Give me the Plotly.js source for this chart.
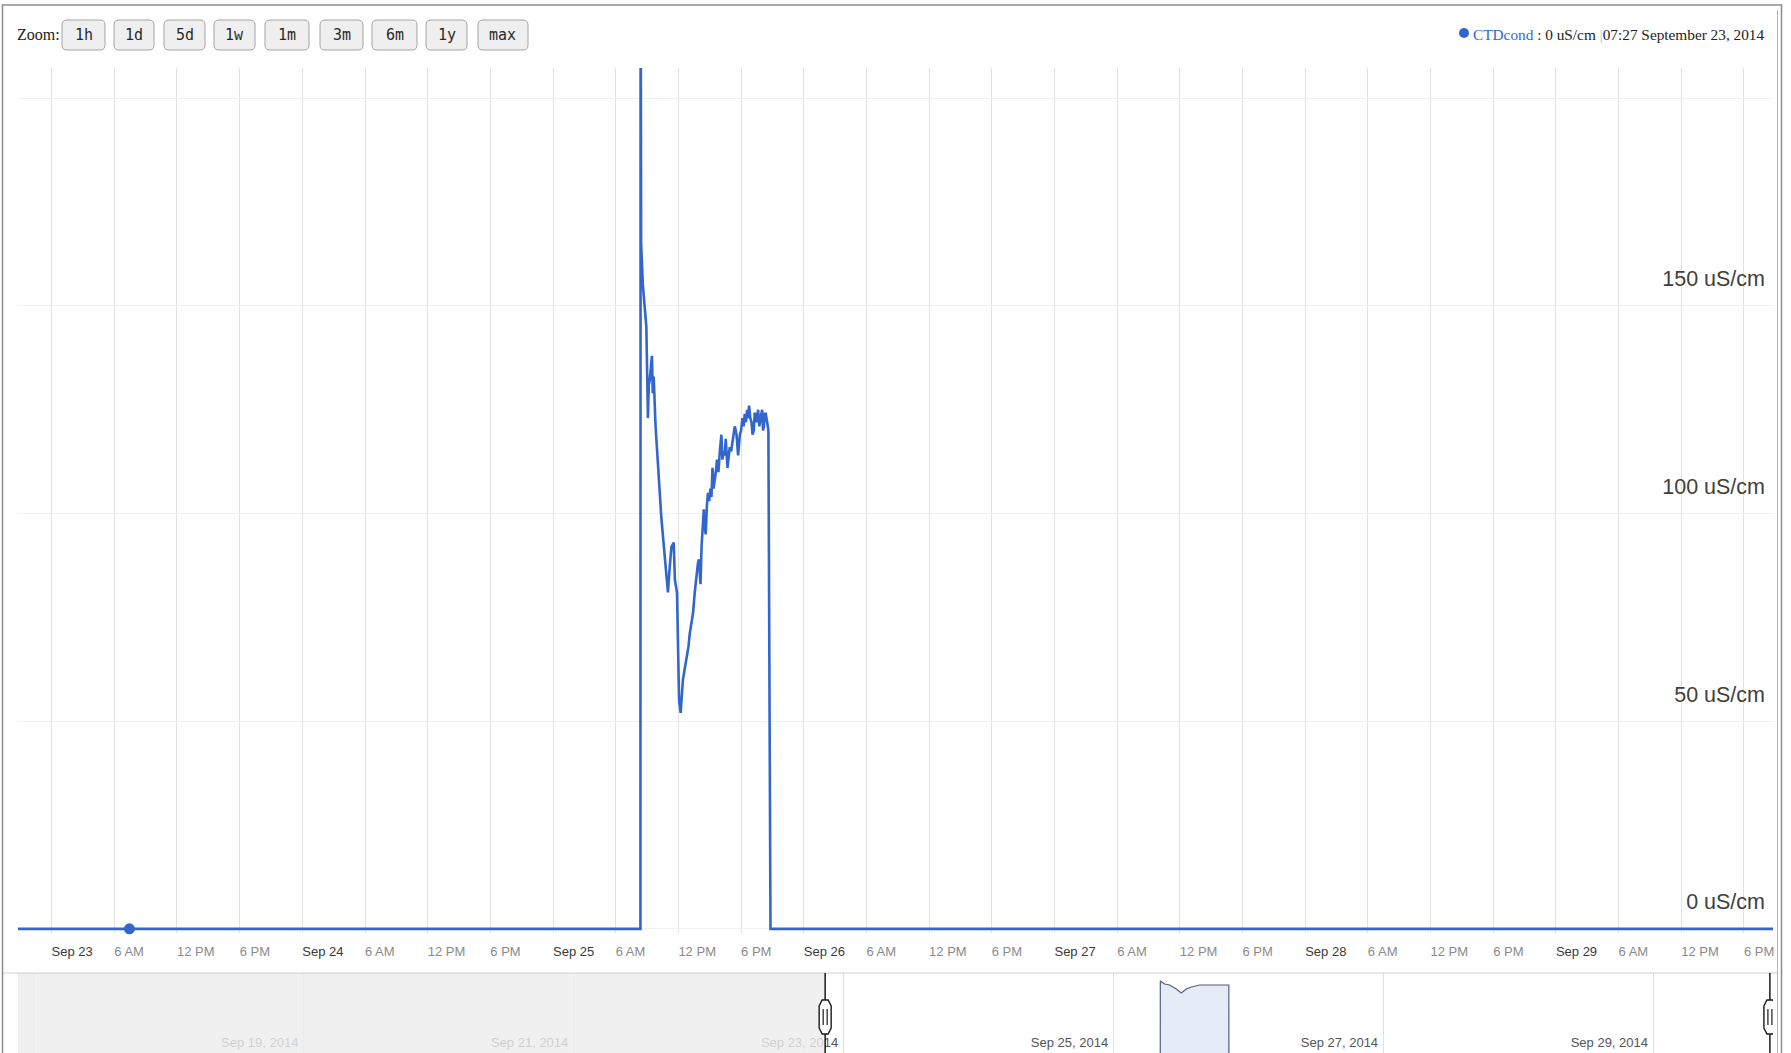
<!DOCTYPE html>
<html>
<head>
<meta charset="utf-8">
<script src="https://cdn.plot.ly/plotly-3.0.1.min.js"></script>
<style>
html,body{margin:0;padding:0;background:#fff;overflow:hidden;}
#chart{width:1791px;height:1053px;}
</style>
</head>
<body>
<div id="chart"></div>
<script>
// ---------------- data ----------------
const seriesName = 'CTDcond';
const unit = 'uS/cm';

const times = [
 '2014-09-22 20:47','2014-09-25 08:22','2014-09-25 08:23','2014-09-25 08:26','2014-09-25 08:36',
 '2014-09-25 08:56','2014-09-25 09:05','2014-09-25 09:10','2014-09-25 09:15','2014-09-25 09:28',
 '2014-09-25 09:33','2014-09-25 09:38','2014-09-25 09:49','2014-09-25 10:03','2014-09-25 10:10',
 '2014-09-25 10:22','2014-09-25 10:41','2014-09-25 10:50','2014-09-25 11:00','2014-09-25 11:10',
 '2014-09-25 11:20','2014-09-25 11:33','2014-09-25 11:40','2014-09-25 11:52','2014-09-25 12:04',
 '2014-09-25 12:13','2014-09-25 12:20','2014-09-25 12:26','2014-09-25 12:38','2014-09-25 12:50',
 '2014-09-25 12:58','2014-09-25 13:05','2014-09-25 13:14','2014-09-25 13:24','2014-09-25 13:34',
 '2014-09-25 13:44','2014-09-25 13:52','2014-09-25 13:58','2014-09-25 14:07','2014-09-25 14:13',
 '2014-09-25 14:18','2014-09-25 14:26','2014-09-25 14:31','2014-09-25 14:37','2014-09-25 14:44',
 '2014-09-25 14:50','2014-09-25 14:57','2014-09-25 15:04','2014-09-25 15:10','2014-09-25 15:16',
 '2014-09-25 15:22','2014-09-25 15:29','2014-09-25 15:35','2014-09-25 15:42','2014-09-25 15:50',
 '2014-09-25 15:58','2014-09-25 16:07','2014-09-25 16:13','2014-09-25 16:20','2014-09-25 16:26',
 '2014-09-25 16:32','2014-09-25 16:42','2014-09-25 16:48','2014-09-25 16:55','2014-09-25 17:03',
 '2014-09-25 17:11','2014-09-25 17:17','2014-09-25 17:24','2014-09-25 17:34','2014-09-25 17:43',
 '2014-09-25 17:53','2014-09-25 18:00','2014-09-25 18:08','2014-09-25 18:15','2014-09-25 18:21',
 '2014-09-25 18:28','2014-09-25 18:35','2014-09-25 18:40','2014-09-25 18:46','2014-09-25 18:53',
 '2014-09-25 19:00','2014-09-25 19:06','2014-09-25 19:13','2014-09-25 19:18','2014-09-25 19:23',
 '2014-09-25 19:30','2014-09-25 19:38','2014-09-25 19:45','2014-09-25 19:52','2014-09-25 20:01',
 '2014-09-25 20:06','2014-09-25 20:11','2014-09-25 20:17','2014-09-25 20:22','2014-09-25 20:30',
 '2014-09-25 20:37','2014-09-25 20:49','2014-09-29 20:47'
];
const values = [
 0, 0, 240, 165, 155,
 145, 123, 131, 132, 138,
 129, 133, 121, 111, 109,
 99, 90, 86, 81, 87,
 92, 93, 84, 81, 55,
 52, 57, 60, 63, 66,
 68, 71, 74, 76, 81,
 86, 88, 89, 83, 92,
 96, 101, 97, 95, 102,
 105, 103, 106, 104, 111,
 106, 108, 110, 113, 110,
 115, 119, 113, 115, 114,
 118, 111, 114, 116, 115,
 117, 119, 121, 119, 114,
 119, 120, 123, 121, 124,
 122, 125, 123, 126, 123,
 122, 119, 120, 124, 124,
 122, 125, 121, 123, 125,
 120, 121, 124, 124, 122,
 120, 0, 0
];

// highlighted (hovered) reading shown in the legend
const highlightTime = '2014-09-23 07:27';
const highlightValue = 0;
const highlightLabel = '07:27 September 23, 2014';

// overview (navigator) series
const overviewTimes = [
 '2014-09-16 21:15','2014-09-25 08:22','2014-09-25 08:23','2014-09-25 09:09','2014-09-25 10:02',
 '2014-09-25 11:13','2014-09-25 12:07','2014-09-25 13:00','2014-09-25 13:53','2014-09-25 15:22',
 '2014-09-25 20:34','2014-09-25 20:35','2014-09-29 21:20'
];
const overviewValues = [0, 0, 129, 126, 125, 121, 117, 121, 123, 125, 125, 0, 0];

// tick labels
const dayLabels = ['Sep 23','Sep 24','Sep 25','Sep 26','Sep 27','Sep 28','Sep 29'];
const dayDates  = ['2014-09-23','2014-09-24','2014-09-25','2014-09-26','2014-09-27','2014-09-28','2014-09-29'];
const hourLabels = ['6 AM','12 PM','6 PM'];
const hourOffsets = ['06:00','12:00','18:00'];
const yTicks = [0, 50, 100, 150, 200];
const navLabels = ['Sep 17, 2014','Sep 19, 2014','Sep 21, 2014','Sep 23, 2014','Sep 25, 2014','Sep 27, 2014','Sep 29, 2014'];
const navDates  = ['2014-09-17','2014-09-19','2014-09-21','2014-09-23','2014-09-25','2014-09-27','2014-09-29'];
const zoomLabels = ['1h','1d','5d','1w','1m','3m','6m','1y','max'];

// visible windows
const mainRange = ['2014-09-22 20:47','2014-09-29 20:47'];
const navRange  = ['2014-09-16 21:15','2014-09-29 21:20'];

// ---------------- layout helpers ----------------
const W = 1791, H = 1053;
const px = x => x / W;
const py = y => 1 - y / H;
const FONT = 'Arial, "Liberation Sans", Helvetica, sans-serif';
const SERIF = '"Liberation Serif", "Times New Roman", Times, serif';

const tickvals = [], ticktext = [];
dayDates.forEach((d, i) => {
  tickvals.push(d + ' 00:00');
  ticktext.push('<span style="color:#3a3a3a">' + dayLabels[i] + '</span>');
  hourOffsets.forEach((h, j) => { tickvals.push(d + ' ' + h); ticktext.push(hourLabels[j]); });
});

const traces = [
  {
    x: times, y: values, xaxis: 'x', yaxis: 'y', type: 'scatter', mode: 'lines',
    line: {color: '#3366cc', width: 2.6}, hoverinfo: 'skip', showlegend: false
  },
  {
    x: [highlightTime], y: [highlightValue], xaxis: 'x', yaxis: 'y', type: 'scatter', mode: 'markers',
    marker: {color: '#3366cc', size: 11}, hoverinfo: 'skip', showlegend: false, cliponaxis: false
  },
  {
    x: overviewTimes, y: overviewValues, xaxis: 'x2', yaxis: 'y2', type: 'scatter', mode: 'lines',
    fill: 'tozeroy', fillcolor: '#e6ecf7', line: {color: '#4f5f82', width: 1.2},
    hoverinfo: 'skip', showlegend: false
  }
];

// zoom buttons (UI chrome)
const btnLeft  = [62, 114, 164, 214, 265, 320, 372, 426, 478];
const btnWidth = [43, 40, 41, 41, 44, 43, 45, 41, 50];
const shapes = [];
const annotations = [];

function roundRect(w, h, r) {
  const a = w / 2, b = h / 2;
  return `M ${-a + r},${-b} L ${a - r},${-b} Q ${a},${-b} ${a},${-b + r} L ${a},${b - r} Q ${a},${b} ${a - r},${b} ` +
         `L ${-a + r},${b} Q ${-a},${b} ${-a},${b - r} L ${-a},${-b + r} Q ${-a},${-b} ${-a + r},${-b} Z`;
}

zoomLabels.forEach((lab, i) => {
  const cx = btnLeft[i] + btnWidth[i] / 2;
  shapes.push({
    type: 'path', xref: 'paper', yref: 'paper', xsizemode: 'pixel', ysizemode: 'pixel',
    xanchor: px(cx), yanchor: py(35), path: roundRect(btnWidth[i], 30, 5),
    fillcolor: '#efefef', line: {color: '#a4a4a4', width: 1}, layer: 'above'
  });
  annotations.push({
    xref: 'paper', yref: 'paper', x: px(cx), y: py(35), xanchor: 'center', yanchor: 'middle',
    text: lab, showarrow: false, font: {family: '"DejaVu Sans Mono", monospace', size: 15, color: '#2a2a2a'}
  });
});

annotations.push({
  xref: 'paper', yref: 'paper', x: px(15), y: py(35), xanchor: 'left', yanchor: 'middle',
  text: 'Zoom:', showarrow: false, font: {family: SERIF, size: 16, color: '#222'}
});

// legend (hover readout)
annotations.push({
  xref: 'paper', yref: 'paper', x: px(1471), y: py(34), xanchor: 'left', yanchor: 'middle',
  text: '<span style="color:#3366cc">' + seriesName + '</span> : ' + highlightValue + ' ' + unit +
        ' <span style="color:#bdbdbd">|</span>' + highlightLabel,
  showarrow: false, font: {family: SERIF, size: 15.3, color: '#222'}
});
shapes.push({
  type: 'circle', xref: 'paper', yref: 'paper', xsizemode: 'pixel', ysizemode: 'pixel',
  xanchor: px(1464), yanchor: py(33), x0: -5, x1: 5, y0: -5, y1: 5,
  fillcolor: '#3366cc', line: {width: 0}, layer: 'above'
});

// navigator: shaded region left of the visible window
shapes.push({
  type: 'rect', xref: 'x2', yref: 'paper', x0: navRange[0], x1: mainRange[0], y0: 0, y1: py(973),
  fillcolor: 'rgba(236,236,236,0.8)', line: {width: 0}, layer: 'above'
});
// navigator top separator
shapes.push({
  type: 'line', xref: 'paper', yref: 'paper', x0: px(3), x1: px(1777), y0: py(973), y1: py(973),
  line: {color: '#cfcfcf', width: 1}, layer: 'above'
});
// navigator handles at the visible window edges
mainRange.forEach(t => {
  shapes.push({
    type: 'line', xref: 'x2', yref: 'paper', x0: t, x1: t, y0: -0.02, y1: py(973),
    line: {color: '#1a1a1a', width: 1.5}, layer: 'above'
  });
  shapes.push({
    type: 'path', xref: 'x2', yref: 'paper', xsizemode: 'pixel', ysizemode: 'pixel',
    xanchor: t, yanchor: py(1017),
    path: 'M -6,-11 L -3,-17 L 3,-17 L 6,-11 L 6,11 L 3,17 L -3,17 L -6,11 Z',
    fillcolor: '#ffffff', line: {color: '#1a1a1a', width: 1.4}, layer: 'above'
  });
  shapes.push({
    type: 'path', xref: 'x2', yref: 'paper', xsizemode: 'pixel', ysizemode: 'pixel',
    xanchor: t, yanchor: py(1017),
    path: 'M -2,-8 L -2,8 M 2,-8 L 2,8',
    line: {color: '#1a1a1a', width: 1.2}, layer: 'above'
  });
});

// outer frame
shapes.push({
  type: 'rect', xref: 'paper', yref: 'paper', x0: px(2.5), x1: px(1781.5), y0: -0.05, y1: py(5),
  line: {color: '#8c8c8c', width: 1.5}, fillcolor: 'rgba(0,0,0,0)', layer: 'above'
});
shapes.push({
  type: 'line', xref: 'paper', yref: 'paper', x0: px(1777.5), x1: px(1777.5), y0: -0.05, y1: py(10),
  line: {color: '#b5b5b5', width: 1}, layer: 'above'
});

const layout = {
  width: W, height: H,
  margin: {l: 0, r: 0, t: 0, b: 0, pad: 0},
  paper_bgcolor: '#ffffff', plot_bgcolor: '#ffffff',
  showlegend: false,
  xaxis: {
    type: 'date', domain: [px(18), px(1773)], range: mainRange, anchor: 'y',
    tickmode: 'array', tickvals: tickvals, ticktext: ticktext,
    ticklabelposition: 'outside right', ticklabeloverflow: 'allow', ticks: '', ticklabelstandoff: 9,
    tickfont: {family: FONT, size: 13, color: '#8a8a8a'},
    showgrid: true, gridcolor: '#e2e2e2', gridwidth: 1,
    zeroline: false, showline: false, fixedrange: true
  },
  yaxis: {
    domain: [py(933), py(68)], range: [-1, 207.3], anchor: 'free', position: px(1765), side: 'left',
    tickmode: 'array', tickvals: yTicks,
    ticktext: yTicks.map(v => v === 200 ? '' : v + ' ' + unit),
    ticklabelposition: 'outside top', ticks: '', ticklabelstandoff: 0, ticklabelshift: -12,
    tickfont: {family: FONT, size: 21.5, color: '#404040'},
    showgrid: true, gridcolor: '#f0f0f0', gridwidth: 1,
    zeroline: false, showline: false, fixedrange: true
  },
  xaxis2: {
    type: 'date', domain: [px(18), px(1773)], range: navRange, anchor: 'y2',
    tickmode: 'array', tickvals: navDates, ticktext: navLabels,
    ticklabelposition: 'inside left', ticks: '', ticklabelstandoff: -3, ticklabelshift: -5,
    tickfont: {family: FONT, size: 13, color: '#555'},
    showgrid: true, gridcolor: '#e0e0e0', gridwidth: 1,
    zeroline: false, showline: false, fixedrange: true
  },
  yaxis2: {
    domain: [0, py(973)], range: [57, 137], anchor: 'x2',
    showticklabels: false, showgrid: false, zeroline: false, showline: false, fixedrange: true
  },
  shapes: shapes,
  annotations: annotations
};

Plotly.newPlot('chart', traces, layout, {displayModeBar: false, staticPlot: true});
</script>
</body>
</html>
